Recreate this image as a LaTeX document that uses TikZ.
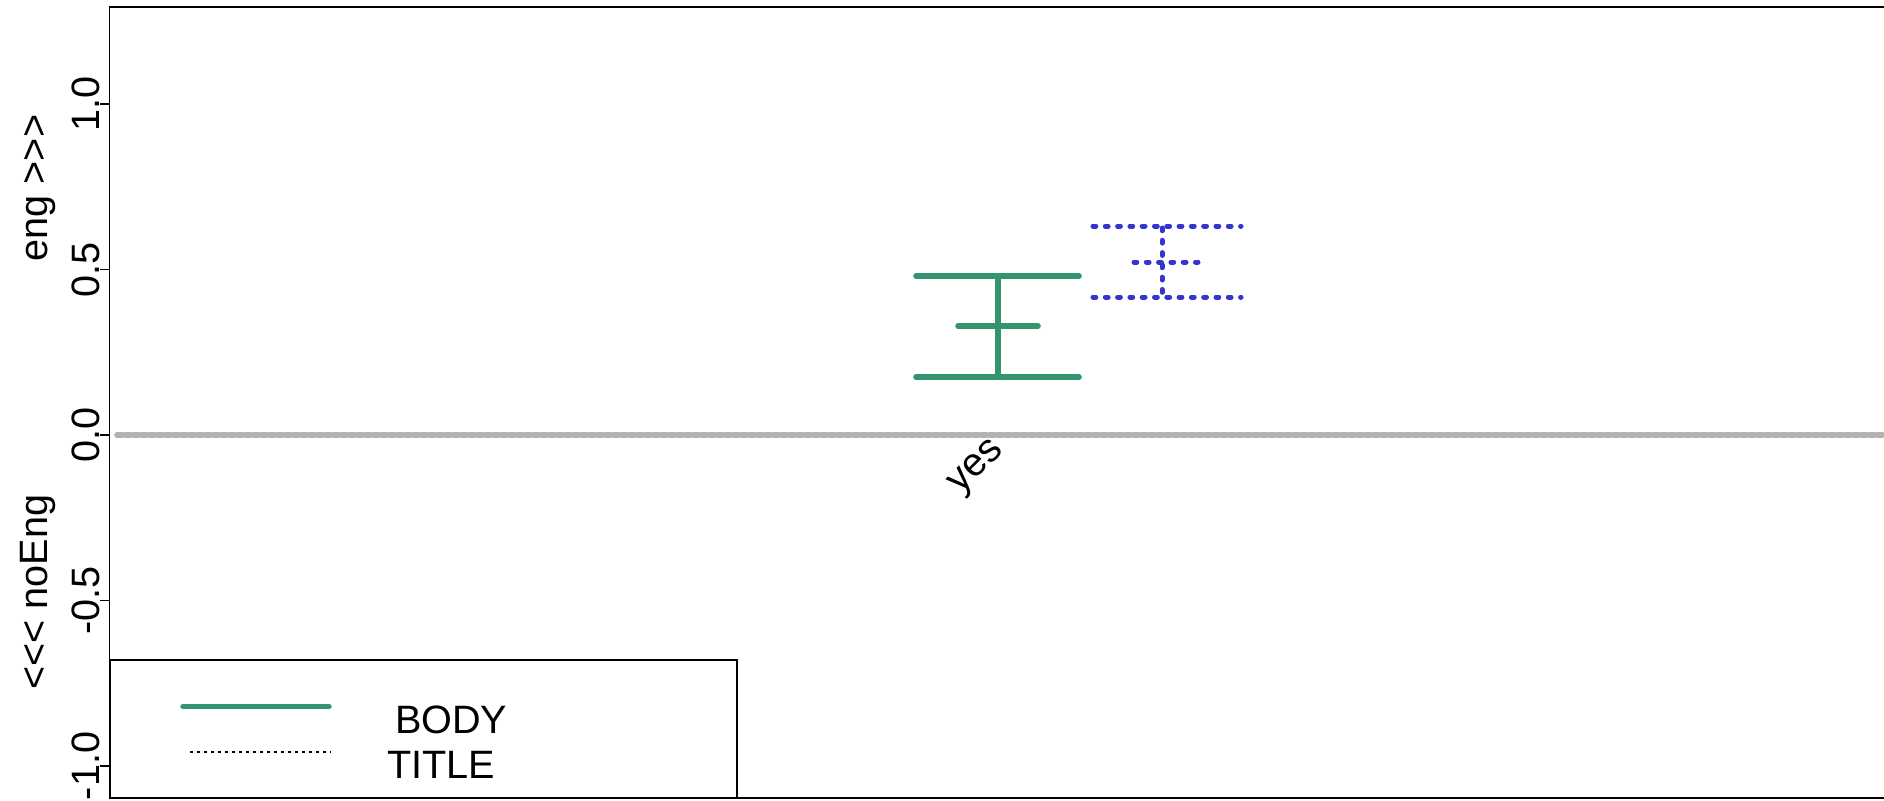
\documentclass[tikz,border=0pt]{standalone}
\usepackage{fontspec}
\setmainfont{Liberation Sans}
\definecolor{bodygreen}{RGB}{49,149,110}
\definecolor{titleblue}{RGB}{52,52,208}
\definecolor{zerogray}{RGB}{178,178,178}
\begin{document}
\begin{tikzpicture}[x=0.5pt,y=-0.5pt,
  lbl/.style={font=\fontsize{19.8}{23}\selectfont, inner sep=0pt, outer sep=0pt},
  frame/.style={line width=0.85pt, draw=black},
  tickline/.style={line width=0.7pt, black},
  zeroline/.style={line width=2.8pt, draw=zerogray, line cap=round, dash pattern=on 2.6pt off 1.4pt},
  bodybar/.style={line width=2.8pt, draw=bodygreen, line cap=round},
  titlebar/.style={line width=2.5pt, draw=titleblue, line cap=round, dash pattern=on 1.4pt off 4.75pt},
  legdots/.style={line width=0.8pt, draw=black, dash pattern=on 1.6pt off 1.9pt},
]
\useasboundingbox (0,0) rectangle (1884,800);
% plot frame (right side lies beyond the picture)
\draw[frame] (1900,7) -- (109.5,7) -- (109.5,798) -- (1900,798);
% zero reference line
\coordinate (z0) at (117,435);
\coordinate (z1) at (1900,435);
\draw[zeroline] (z0) -- (z1);
% y ticks and labels
\foreach \v/\t in {1/1.0, 0.5/0.5, 0/0.0, -0.5/-0.5, -1/-1.0} {
  \draw[tickline] (100,{435-331*\v}) -- (109.5,{435-331*\v});
  \node[lbl, rotate=90, anchor=base] (tick\t) at (99,{435-331*\v}) {\t};
}
% axis labels
\node[lbl, rotate=90, anchor=base] (ylabhi) at (47,188) {eng >{}>{}>};
\node[lbl, rotate=90, anchor=base] (ylablo) at (47,592) {<{}<{}< noEng};
% category label
\node[lbl, rotate=45, anchor=base east] (cat) at (1004,451) {yes};
% BODY error bar
\coordinate (bt) at (998,276);
\coordinate (bb) at (998,377);
\draw[bodybar] (bt) -- (bb);
\draw[bodybar] (916,276) -- (1079,276);
\draw[bodybar] (916,377) -- (1079,377);
\draw[bodybar] (958,326) -- (1038,326);
% TITLE error bar
\coordinate (tt) at (1162,228);
\coordinate (tb) at (1162,297);
\draw[titlebar] (tt) -- (tb);
\draw[titlebar] (1093,226) -- (1241,226);
\draw[titlebar] (1093,297) -- (1241,297);
\draw[titlebar] (1134,262) -- (1198,262);
% legend
\draw[frame, fill=white] (110,660) rectangle (737,798);
\coordinate (lg0) at (183,706.5);
\coordinate (lg1) at (329,706.5);
\draw[bodybar] (lg0) -- (lg1);
\coordinate (lt0) at (190,752);
\coordinate (lt1) at (331,752);
\draw[legdots] (lt0) -- (lt1);
\node[lbl, anchor=base west] (legbody) at (395,733) {BODY};
\node[lbl, anchor=base west] (legtitle) at (387,778) {TITLE};
\end{tikzpicture}
\end{document}
